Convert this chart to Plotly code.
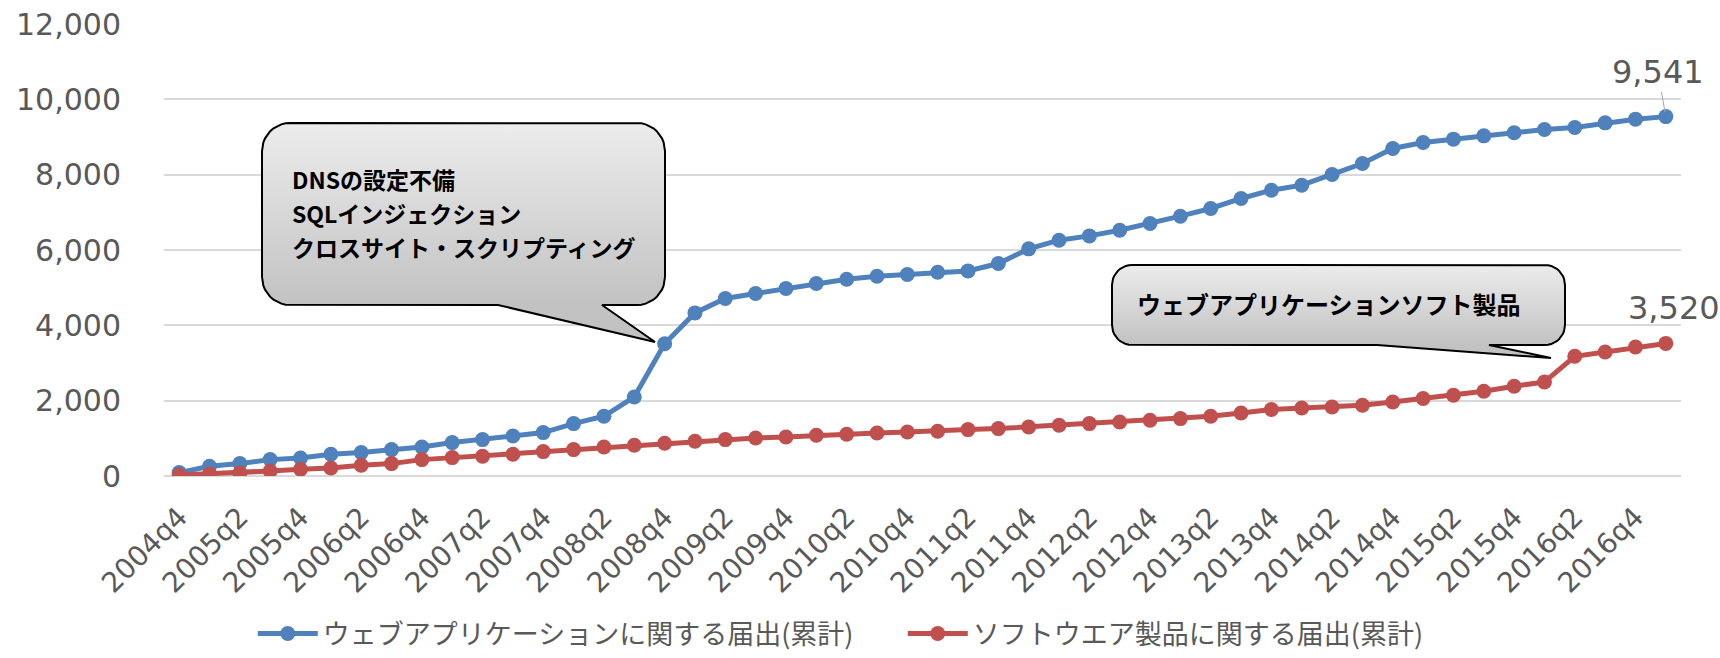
import math
import plotly.graph_objects as go

quarters = [
    "2004q4", "2005q1", "2005q2", "2005q3", "2005q4", "2006q1", "2006q2", "2006q3",
    "2006q4", "2007q1", "2007q2", "2007q3", "2007q4", "2008q1", "2008q2", "2008q3",
    "2008q4", "2009q1", "2009q2", "2009q3", "2009q4", "2010q1", "2010q2", "2010q3",
    "2010q4", "2011q1", "2011q2", "2011q3", "2011q4", "2012q1", "2012q2", "2012q3",
    "2012q4", "2013q1", "2013q2", "2013q3", "2013q4", "2014q1", "2014q2", "2014q3",
    "2014q4", "2015q1", "2015q2", "2015q3", "2015q4", "2016q1", "2016q2", "2016q3",
    "2016q4", "2017q1",
]
tick_labels = [
    "2004q4", "2005q2", "2005q4", "2006q2", "2006q4", "2007q2", "2007q4", "2008q2",
    "2008q4", "2009q2", "2009q4", "2010q2", "2010q4", "2011q2", "2011q4", "2012q2",
    "2012q4", "2013q2", "2013q4", "2014q2", "2014q4", "2015q2", "2015q4", "2016q2",
    "2016q4",
]
web_app = [
    90, 258, 329, 435, 478, 576, 621, 701, 770, 887, 967, 1062, 1152, 1391, 1586, 2099,
    3510, 4330, 4712, 4845, 4978, 5110, 5225, 5305, 5349, 5410, 5445, 5641, 6030, 6260,
    6375, 6526, 6703, 6898, 7102, 7368, 7588, 7721, 8005, 8297, 8696, 8855, 8943, 9031,
    9111, 9200, 9253, 9376, 9474, 9541,
]
software = [
    25, 50, 80, 133, 178, 213, 284, 329, 435, 489, 523, 576, 648, 701, 770, 815,
    868, 921, 967, 1009, 1036, 1081, 1108, 1142, 1169, 1187, 1232, 1259, 1302, 1347,
    1391, 1434, 1479, 1524, 1586, 1673, 1764, 1806, 1833, 1878, 1965, 2056, 2143, 2250,
    2382, 2497, 3179, 3293, 3426, 3520,
]
series_names = ["ウェブアプリケーションに関する届出(累計)", "ソフトウエア製品に関する届出(累計)"]
y_ticks = [0, 2000, 4000, 6000, 8000, 10000, 12000]
callout1_lines = ["DNSの設定不備", "SQLインジェクション", "クロスサイト・スクリプティング"]
callout2_text = "ウェブアプリケーションソフト製品"

W, H = 1720, 658
L, R, T, B = 164, 39, 24, 182
BLUE = "#4F81BD"
RED = "#C0504D"
GRAY = "#595959"
TICKFONT = "DejaVu Sans"
JP = "Noto Sans CJK JP"


def callout_path(left, top, right, bottom, r, base_l, base_r, tip, n=10):
    pts = [(left + r, top), (right - r, top)]
    def arc(cx, cy, a0, a1):
        for i in range(1, n + 1):
            a = math.radians(a0 + (a1 - a0) * i / n)
            pts.append((cx + r * math.cos(a), cy + r * math.sin(a)))
    arc(right - r, top + r, -90, 0)
    pts.append((right, bottom - r))
    arc(right - r, bottom - r, 0, 90)
    pts.append((base_r, bottom))
    pts.append(tip)
    pts.append((base_l, bottom))
    pts.append((left + r, bottom))
    arc(left + r, bottom - r, 90, 180)
    pts.append((left, top + r))
    arc(left + r, top + r, 180, 270)
    xs = [p[0] for p in pts]
    ys = [H - p[1] for p in pts]
    return xs, ys, H - bottom, H - top


fig = go.Figure()

fig.add_trace(go.Scatter(
    x=quarters, y=web_app, name=series_names[0], mode="lines+markers",
    line=dict(color=BLUE, width=5), marker=dict(size=15, color=BLUE),
))
fig.add_trace(go.Scatter(
    x=quarters, y=software, name=series_names[1], mode="lines+markers",
    line=dict(color=RED, width=5), marker=dict(size=15, color=RED),
))

# Callout shapes (decorations in pixel space on an overlay axis)
for box in [
    (262, 123, 665, 305, 28, 498, 602, (655, 342)),
    (1112, 265, 1565, 345, 20, 1377, 1489, (1551, 358)),
]:
    xs, ys, ybot, ytop = callout_path(*box)
    fig.add_trace(go.Scatter(
        x=xs, y=ys, xaxis="x2", yaxis="y2", mode="lines", fill="toself",
        line=dict(color="black", width=2),
        fillgradient=dict(type="vertical", start=ybot, stop=ytop,
                          colorscale=[[0, "#c2c2c2"], [1, "#ececec"]]),
        showlegend=False, hoverinfo="skip",
    ))

annotations = []
for i, line in enumerate(callout1_lines):
    annotations.append(dict(
        x=290, y=H - (179 + 34 * i), xref="x2", yref="y2", text=line,
        showarrow=False, xanchor="left", yanchor="middle",
        font=dict(family=JP, size=23, color="black", weight="bold"),
    ))
annotations += [
    dict(
        x=1135, y=H - 303, xref="x2", yref="y2", text=callout2_text,
        showarrow=False, xanchor="left", yanchor="middle",
        font=dict(family=JP, size=24, color="black", weight="bold"),
    ),
    dict(
        x=quarters[-1], y=web_app[-1], xref="x", yref="y", text=f"{web_app[-1]:,}",
        showarrow=True, arrowhead=0, arrowwidth=1, arrowcolor="#a6a6a6",
        ax=-8, ay=-45, standoff=5,
        font=dict(family=TICKFONT, size=32, color=GRAY),
    ),
    dict(
        x=quarters[-1], y=software[-1], xref="x", yref="y", text=f"{software[-1]:,}",
        showarrow=False, xshift=8, yshift=35,
        font=dict(family=TICKFONT, size=32, color=GRAY),
    ),
]

fig.update_layout(
    width=W, height=H,
    margin=dict(l=L, r=R, t=T, b=B, autoexpand=False),
    paper_bgcolor="white", plot_bgcolor="white",
    showlegend=True,
    legend=dict(
        orientation="h", x=0.487, xanchor="center",
        yref="container", y=(H - 634) / H, yanchor="middle",
        font=dict(family=JP, size=27, color=GRAY), itemwidth=60,
        entrywidth=575, entrywidthmode="pixels",
        bgcolor="rgba(0,0,0,0)",
    ),
    xaxis=dict(
        type="category", range=[-0.5, len(quarters) - 0.5],
        tickmode="array", tickvals=tick_labels, ticktext=tick_labels,
        tickangle=-45, tickfont=dict(family=TICKFONT, size=28, color=GRAY),
        showgrid=False, zeroline=False, showline=False, ticks="",
        ticklabelstandoff=18,
    ),
    yaxis=dict(
        range=[0, 12000], tickmode="array", tickvals=y_ticks, tickformat=",",
        tickfont=dict(family=TICKFONT, size=30, color=GRAY),
        showgrid=True, gridcolor="#d9d9d9", gridwidth=1.5,
        zeroline=True, zerolinecolor="#d9d9d9", zerolinewidth=1.5,
        showline=False, ticks="", ticklabelstandoff=42,
    ),
    xaxis2=dict(overlaying="x", anchor="y2", range=[L, W - R], visible=False, fixedrange=True),
    yaxis2=dict(overlaying="y", anchor="x2", range=[B, H - T], visible=False, fixedrange=True),
    annotations=annotations,
)

fig.write_html("out.html")
